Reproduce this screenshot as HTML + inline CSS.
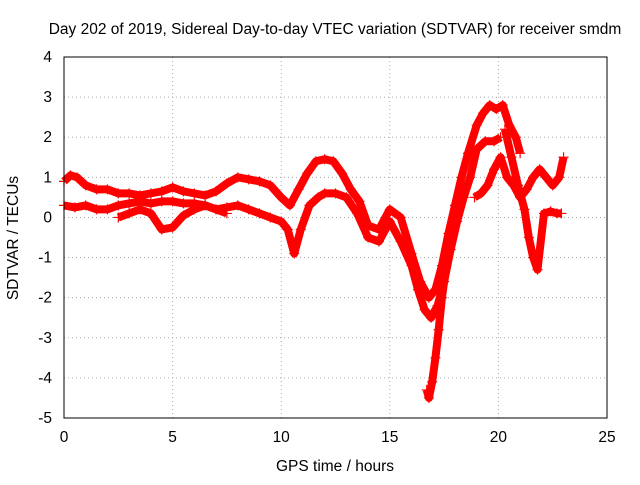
<!DOCTYPE html>
<html><head><meta charset="utf-8"><style>
body{margin:0;background:#fff;font-family:"Liberation Sans",sans-serif}
svg text{font-family:"Liberation Sans",sans-serif;font-size:15.5px;fill:#000}
</style></head><body>
<svg id="chart" width="640" height="480">
<text x="335" y="34" text-anchor="middle">Day 202 of 2019, Sidereal Day-to-day VTEC variation (SDTVAR) for receiver smdm</text>
<text x="335" y="471" text-anchor="middle">GPS time / hours</text>
<text x="18" y="238" text-anchor="middle" transform="rotate(-90 18 238)">SDTVAR / TECUs</text>
<g id="grid"></g><g id="ticks"></g><g id="marks"></g>
<rect x="64" y="57" width="543" height="361" fill="none" stroke="#000"/>
</svg>
<script>
const xTicks=[0,5,10,15,20,25];
const yTicks=[-5,-4,-3,-2,-1,0,1,2,3,4];
const trackA_t=[0,0.3,0.6,1,1.5,2,2.5,3,3.5,4,4.5,5,5.5,6,6.5,7,7.5,8,8.5,9,9.5,10,10.4,10.8,11.2,11.6,12,12.4,12.8,13.2,13.6,14,14.5,15,15.5,16,16.4,16.8,17.1,17.4,17.7,18,18.3,18.6,19,19.3,19.6,19.9,20.2,20.5,20.8,21];
const trackA_v=[0.9,1.05,1.0,0.8,0.7,0.7,0.6,0.6,0.55,0.6,0.65,0.75,0.65,0.6,0.55,0.65,0.85,1.0,0.95,0.9,0.8,0.5,0.3,0.7,1.1,1.4,1.45,1.4,1.1,0.7,0.4,-0.2,-0.3,0.2,0.0,-0.9,-1.6,-2.0,-1.8,-1.2,-0.4,0.3,1.0,1.6,2.3,2.6,2.8,2.7,2.8,2.3,2.0,1.6];
const trackB_t=[0,0.5,1,1.5,2,2.5,3,3.5,4,4.5,5,5.5,6,6.5,7,7.5,8,8.5,9,9.5,10,10.3,10.6,10.9,11.3,11.7,12,12.5,13,13.5,14,14.5,15,15.5,16,16.3,16.6,16.9,17.2,17.5,17.8,18.1,18.4,18.7,19,19.4,19.8,20.1];
const trackB_v=[0.3,0.25,0.3,0.2,0.2,0.3,0.35,0.4,0.35,0.4,0.4,0.35,0.35,0.3,0.2,0.25,0.3,0.2,0.1,0.0,-0.1,-0.3,-0.9,-0.3,0.3,0.5,0.6,0.6,0.5,0.1,-0.5,-0.6,-0.1,-0.6,-1.2,-1.8,-2.3,-2.5,-2.2,-1.6,-0.8,-0.1,0.5,1.0,1.7,1.9,1.9,2.0];
const trackC_t=[16.7,16.8,16.95,17.1,17.25,17.4,17.6,17.8,18.0,18.2,18.4];
const trackC_v=[-4.3,-4.5,-4.1,-3.5,-2.8,-2.0,-1.2,-0.5,0.0,0.4,0.8];
const trackD_t=[2.5,3,3.5,4,4.5,5,5.5,6,6.5,7,7.5];
const trackD_v=[0.0,0.1,0.2,0.1,-0.3,-0.25,0.05,0.2,0.3,0.2,0.1];
const trackE_t=[18.9,19.2,19.5,19.8,20.1,20.4,20.7,21,21.3,21.6,21.9,22.2,22.5,22.8,23];
const trackE_v=[0.5,0.6,0.8,1.2,1.5,1.0,0.8,0.5,0.7,1.0,1.2,1.0,0.8,1.0,1.5];
const trackF_t=[20.3,20.6,20.9,21.2,21.4,21.6,21.8,22.1,22.4,22.7,22.9];
const trackF_v=[2.2,1.5,0.8,0.2,-0.5,-1.0,-1.3,0.1,0.15,0.1,0.1];
const X=v=>64+v*543/25, Y=v=>418-(v+5)*361/9;
const NS='http://www.w3.org/2000/svg';
const grid=document.getElementById('grid'),ticks=document.getElementById('ticks'),marks=document.getElementById('marks');
function mk(t,a,p){const e=document.createElementNS(NS,t);for(const k in a)e.setAttribute(k,a[k]);p.appendChild(e);return e;}
xTicks.forEach(v=>{
 const g=mk('line',{x1:X(v),x2:X(v),y1:57,y2:418,stroke:'#aaa','stroke-dasharray':'1,3'},grid);
 
 
 const t=mk('text',{x:X(v),y:442,'text-anchor':'middle'},ticks);t.textContent=v;
 
 
});
yTicks.forEach(v=>{
 const g=mk('line',{x1:64,x2:607,y1:Y(v),y2:Y(v),stroke:'#aaa','stroke-dasharray':'1,3'},grid);
 
 
 const t=mk('text',{x:52,y:Y(v)+5,'text-anchor':'end'},ticks);t.textContent=v;
 
 
});
[[trackA_t,trackA_v],[trackB_t,trackB_v],[trackC_t,trackC_v],[trackD_t,trackD_v],[trackE_t,trackE_v],[trackF_t,trackF_v]].forEach(([ts,vs])=>{
 const pl=mk('polyline',{points:ts.map((t,i)=>X(t)+','+Y(vs[i])).join(' '),fill:'none',stroke:'#f00','stroke-width':8,'stroke-linejoin':'round'},marks);
 
 
 ts.forEach((t,i)=>{
  const x=X(t),y=Y(vs[i]);
  const p=mk('path',{d:`M${x-5},${y}h10M${x},${y-5}v10`,stroke:'#f00','stroke-width':1.2},marks);
  
  
 });
});
</script>
</body></html>
